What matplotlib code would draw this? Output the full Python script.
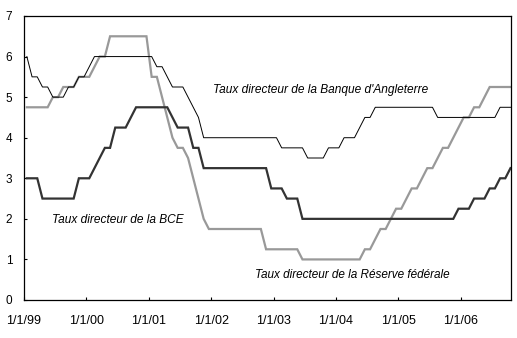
import numpy as np
import matplotlib
matplotlib.use("Agg")
import matplotlib.pyplot as plt

# Monthly policy rates, Jan 1999 .. Oct 2006
boe = [6.0, 5.5, 5.5, 5.25, 5.25, 5.0, 5.0, 5.0, 5.25, 5.25, 5.5, 5.5,
       5.75, 6.0, 6.0, 6.0, 6.0, 6.0, 6.0, 6.0, 6.0, 6.0, 6.0, 6.0,
       6.0, 5.75, 5.75, 5.5, 5.25, 5.25, 5.25, 5.0, 4.75, 4.5, 4.0, 4.0,
       4.0, 4.0, 4.0, 4.0, 4.0, 4.0, 4.0, 4.0, 4.0, 4.0, 4.0, 4.0,
       4.0, 3.75, 3.75, 3.75, 3.75, 3.75, 3.5, 3.5, 3.5, 3.5, 3.75, 3.75,
       3.75, 4.0, 4.0, 4.0, 4.25, 4.5, 4.5, 4.75, 4.75, 4.75, 4.75, 4.75,
       4.75, 4.75, 4.75, 4.75, 4.75, 4.75, 4.75, 4.5, 4.5, 4.5, 4.5, 4.5,
       4.5, 4.5, 4.5, 4.5, 4.5, 4.5, 4.5, 4.75, 4.75, 4.75]

bce = [3.0, 3.0, 3.0, 2.5, 2.5, 2.5, 2.5, 2.5, 2.5, 2.5, 3.0, 3.0,
       3.0, 3.25, 3.5, 3.75, 3.75, 4.25, 4.25, 4.25, 4.5, 4.75, 4.75, 4.75,
       4.75, 4.75, 4.75, 4.75, 4.5, 4.25, 4.25, 4.25, 3.75, 3.75, 3.25, 3.25,
       3.25, 3.25, 3.25, 3.25, 3.25, 3.25, 3.25, 3.25, 3.25, 3.25, 3.25, 2.75,
       2.75, 2.75, 2.5, 2.5, 2.5, 2.0, 2.0, 2.0, 2.0, 2.0, 2.0, 2.0,
       2.0, 2.0, 2.0, 2.0, 2.0, 2.0, 2.0, 2.0, 2.0, 2.0, 2.0, 2.0,
       2.0, 2.0, 2.0, 2.0, 2.0, 2.0, 2.0, 2.0, 2.0, 2.0, 2.0, 2.25,
       2.25, 2.25, 2.5, 2.5, 2.5, 2.75, 2.75, 3.0, 3.0, 3.25]

fed = [4.75, 4.75, 4.75, 4.75, 4.75, 5.0, 5.0, 5.25, 5.25, 5.25, 5.5, 5.5,
       5.5, 5.75, 6.0, 6.0, 6.5, 6.5, 6.5, 6.5, 6.5, 6.5, 6.5, 6.5,
       5.5, 5.5, 5.0, 4.5, 4.0, 3.75, 3.75, 3.5, 3.0, 2.5, 2.0, 1.75,
       1.75, 1.75, 1.75, 1.75, 1.75, 1.75, 1.75, 1.75, 1.75, 1.75, 1.25, 1.25,
       1.25, 1.25, 1.25, 1.25, 1.25, 1.0, 1.0, 1.0, 1.0, 1.0, 1.0, 1.0,
       1.0, 1.0, 1.0, 1.0, 1.0, 1.25, 1.25, 1.5, 1.75, 1.75, 2.0, 2.25,
       2.25, 2.5, 2.75, 2.75, 3.0, 3.25, 3.25, 3.5, 3.75, 3.75, 4.0, 4.25,
       4.5, 4.5, 4.75, 4.75, 5.0, 5.25, 5.25, 5.25, 5.25, 5.25]

tick_labels = ["1/1/99", "1/1/00", "1/1/01", "1/1/02",
               "1/1/03", "1/1/04", "1/1/05", "1/1/06"]
y_ticks = [0, 1, 2, 3, 4, 5, 6, 7]

label_boe = "Taux directeur de la Banque d'Angleterre"
label_bce = "Taux directeur de la BCE"
label_fed = "Taux directeur de la Réserve fédérale"

plt.rcParams['font.family'] = ['Liberation Sans', 'DejaVu Sans']

fig = plt.figure(figsize=(5.17, 3.38), dpi=100)
ax = fig.add_axes([24/517, 1-300/338, (511-24)/517, (300-16)/338])

months = np.arange(len(fed)) + 0.55

ax.plot(months, fed, color='#999999', lw=1.6, solid_joinstyle='miter')
ax.plot(months, bce, color='#333333', lw=1.6, solid_joinstyle='miter')
ax.plot(months, boe, color='#000000', lw=0.7)

ax.set_xlim(0, 93.65)
ax.set_ylim(0, 7)
ax.set_xticks(np.arange(len(tick_labels)) * 12)
ax.set_xticklabels(tick_labels)
ax.set_yticks(y_ticks)
ax.tick_params(axis='x', direction='in', length=2, width=0.8, pad=10.5, labelsize=9)
ax.tick_params(axis='y', direction='in', length=2, width=0.8, pad=8.5, labelsize=8.5)
for s in ax.spines.values():
    s.set_linewidth(0.9)
    s.set_color('black')

ax.text(36.4, 5.18, label_boe, fontsize=8.6, style='italic', va='center', ha='left')
ax.text(5.3, 1.97, label_bce, fontsize=8.6, style='italic', va='center', ha='left')
ax.text(44.4, 0.62, label_fed, fontsize=8.5, style='italic', va='center', ha='left')

fig.savefig("out.png", dpi=100)
